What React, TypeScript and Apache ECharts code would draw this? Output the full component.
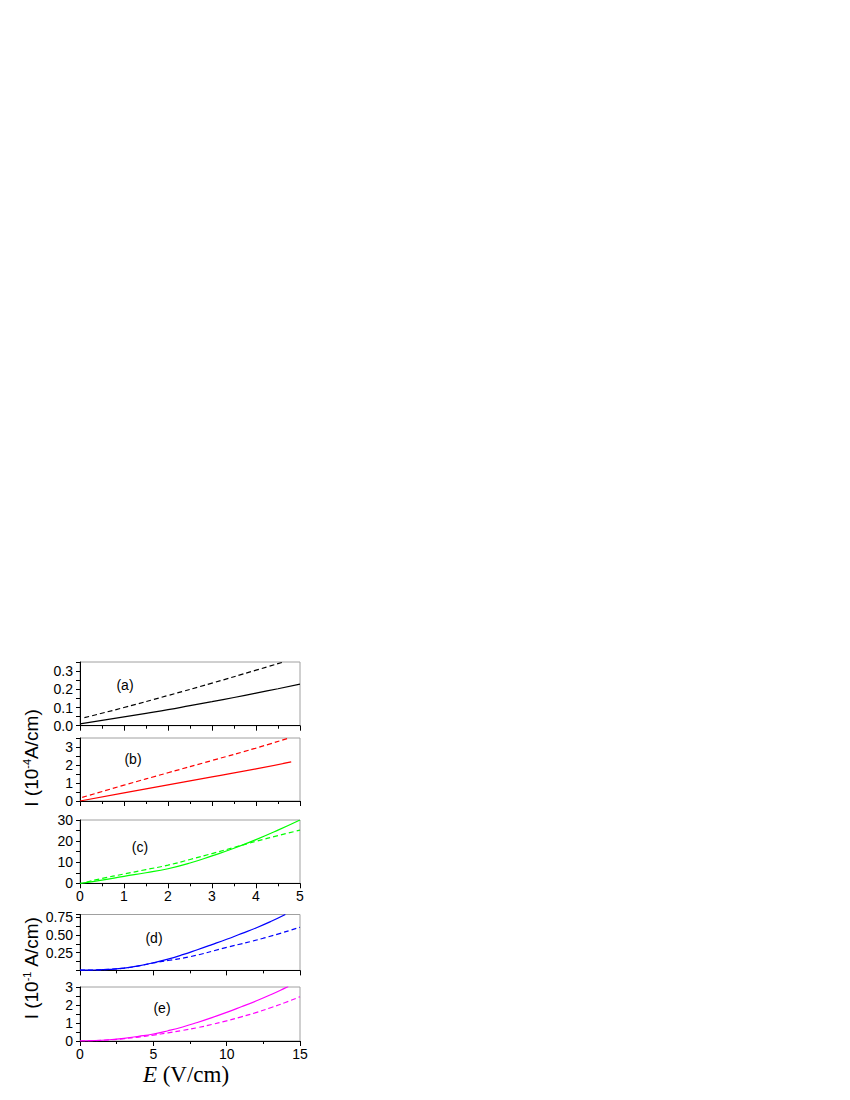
import React, { useEffect, useRef } from 'react';
import * as echarts from 'echarts';

// ---------- data ----------
const panelNames = ['(a)', '(b)', '(c)', '(d)', '(e)'];
const panelColors = ['#000000', '#ff0000', '#00ff00', '#0000ff', '#ff00ff'];

const aSolid = [[0, 0.01], [0.5, 0.029], [1, 0.048], [1.5, 0.068], [2, 0.088], [2.5, 0.11], [3, 0.132], [3.5, 0.155], [4, 0.179], [4.5, 0.203], [5, 0.228]];
const aDashed = [[0.1, 0.044], [1, 0.1], [2, 0.166], [3, 0.234], [4, 0.305], [4.65, 0.352]];

const bSolid = [[0, 0], [1, 0.45], [2, 0.9], [3, 1.34], [4, 1.78], [4.8, 2.17]];
const bDashed = [[0.05, 0.2], [1, 0.88], [2, 1.57], [3, 2.25], [4, 2.94], [4.75, 3.5]];

const cSolid = [[0, 0], [0.5, 1.5], [1, 3.3], [1.5, 5], [2, 6.9], [2.5, 9.6], [3, 13], [3.5, 16.6], [4, 20.7], [4.5, 25.2], [5, 30]];
const cDashed = [[0.15, 0.6], [0.5, 2.3], [1, 4.4], [1.5, 6.5], [2, 8.6], [2.5, 11.3], [3, 14.1], [3.5, 17], [4, 19.9], [4.5, 22.6], [5, 25.2]];

const dSolid = [[0, 0.003], [1, 0.006], [2, 0.015], [3, 0.032], [4, 0.065], [5, 0.108], [6, 0.16], [7, 0.222], [8, 0.292], [9, 0.365], [10, 0.44], [11, 0.52], [12, 0.6], [13, 0.69], [14, 0.79]];
const dDashed = [[0, 0.003], [1, 0.006], [2, 0.015], [3, 0.032], [4, 0.063], [5, 0.105], [6, 0.14], [7.5, 0.193], [10, 0.325], [12.5, 0.455], [15, 0.61]];

const eSolid = [[0, 0], [1, 0.02], [2, 0.07], [3, 0.15], [4, 0.26], [5, 0.39], [6, 0.57], [7, 0.78], [8, 1.03], [9, 1.3], [10, 1.59], [11, 1.9], [12, 2.22], [13, 2.57], [14, 2.95], [14.2, 3.03]];
const eDashed = [[0, 0], [1, 0.02], [2, 0.06], [3, 0.13], [4, 0.22], [5, 0.33], [6, 0.45], [7, 0.59], [8, 0.74], [9, 0.92], [10, 1.12], [11, 1.34], [12, 1.58], [13, 1.85], [14, 2.14], [15, 2.46]];

const solidSeries = [aSolid, bSolid, cSolid, dSolid, eSolid];
const dashedSeries = [aDashed, bDashed, cDashed, dDashed, eDashed];

const yMaxes = [0.35, 3.5, 30, 0.79, 3];
const yLabelSteps = [0.1, 1, 10, 0.25, 1];
const yDecimals = [1, 0, 0, 2, 0];
const xMaxes = [5, 5, 5, 15, 15];
const xSteps = [1, 1, 1, 5, 5];
const xLabelShown = [false, false, true, false, true];

const yTitleTop = 'I (10{sup|-4}A/cm)';
const yTitleBottom = 'I (10{sup|-1} A/cm)';
const xTitle = '{i|E} (V/cm)';

// ---------- layout ----------
const gridTops = [662, 738, 820, 914.5, 987];
const gridHeights = [63.7, 63, 63.3, 55.9, 54];
const gridLeft = 80;
const gridWidth = 220;
const labelPos = [[125, 685], [133, 759], [140, 847], [154, 938], [162, 1008]];

const FONT = 'Liberation Sans, Arial, sans-serif';
const SERIF = 'Liberation Serif, Times New Roman, serif';

export default function App() {
  const ref = useRef<HTMLDivElement>(null);
  useEffect(() => {
    if (!ref.current) return;
    const chart = echarts.init(ref.current, undefined, { renderer: 'svg' });

    const grid = gridTops.map((t, i) => ({
      left: gridLeft,
      top: t,
      width: gridWidth,
      height: gridHeights[i],
      show: true,
      borderColor: '#a0a0a0',
      borderWidth: 1,
      backgroundColor: 'transparent',
      containLabel: false,
    }));

    const xAxis = xMaxes.map((mx, i) => ({
      type: 'value',
      gridIndex: i,
      min: 0,
      max: mx,
      interval: xSteps[i],
      axisLine: { show: true, lineStyle: { color: '#000', width: 1 } },
      axisTick: { show: true, inside: false, length: 5, lineStyle: { color: '#000' } },
      minorTick: { show: true, splitNumber: 2, length: 3, lineStyle: { color: '#000' } },
      splitLine: { show: false },
      axisLabel: {
        show: xLabelShown[i],
        color: '#000',
        fontSize: 14,
        fontFamily: FONT,
        margin: 6,
      },
    }));

    const yAxis = yMaxes.map((mx, i) => ({
      type: 'value',
      gridIndex: i,
      min: 0,
      max: mx,
      interval: yLabelSteps[i] / 2,
      axisLine: { show: true, lineStyle: { color: '#000', width: 1 } },
      axisTick: { show: true, inside: false, length: 4, lineStyle: { color: '#000' } },
      splitLine: { show: false },
      axisLabel: {
        show: true,
        interval: 0,
        color: '#000',
        fontSize: 14,
        fontFamily: FONT,
        margin: 7,
        formatter: (v: number) => {
          const k = v / yLabelSteps[i];
          if (Math.abs(k - Math.round(k)) > 1e-6) return '';
          if (i === 3 && v === 0) return '';
          return v.toFixed(yDecimals[i]);
        },
      },
    }));

    const series: any[] = [];
    for (let i = 0; i < 5; i++) {
      series.push({
        type: 'line',
        xAxisIndex: i,
        yAxisIndex: i,
        data: solidSeries[i],
        showSymbol: false,
        smooth: true,
        clip: true,
        lineStyle: { color: panelColors[i], width: 1.2, type: 'solid' },
      });
      series.push({
        type: 'line',
        xAxisIndex: i,
        yAxisIndex: i,
        data: dashedSeries[i],
        showSymbol: false,
        smooth: true,
        clip: true,
        lineStyle: { color: panelColors[i], width: 1.2, type: [5, 3] },
      });
    }

    const graphic: any[] = panelNames.map((n, i) => ({
      type: 'text',
      x: labelPos[i][0],
      y: labelPos[i][1],
      style: {
        text: n,
        fontSize: 14,
        fontFamily: FONT,
        fill: '#000',
        align: 'center',
        verticalAlign: 'middle',
      },
    }));
    graphic.push({
      type: 'text',
      x: 31,
      y: 758,
      rotation: Math.PI / 2,
      style: {
        text: yTitleTop,
        fontSize: 19,
        fontFamily: FONT,
        fill: '#000',
        align: 'center',
        verticalAlign: 'middle',
        rich: { sup: { fontSize: 11, fontFamily: FONT, verticalAlign: 'top', fill: '#000' } },
      },
    });
    graphic.push({
      type: 'text',
      x: 31,
      y: 968,
      rotation: Math.PI / 2,
      style: {
        text: yTitleBottom,
        fontSize: 19,
        fontFamily: FONT,
        fill: '#000',
        align: 'center',
        verticalAlign: 'middle',
        rich: { sup: { fontSize: 11, fontFamily: FONT, verticalAlign: 'top', fill: '#000' } },
      },
    });
    graphic.push({
      type: 'text',
      x: 186,
      y: 1074,
      style: {
        text: xTitle,
        fontSize: 23,
        fontFamily: SERIF,
        fill: '#000',
        align: 'center',
        verticalAlign: 'middle',
        rich: { i: { fontSize: 23, fontStyle: 'italic', fontFamily: SERIF, fill: '#000' } },
      },
    });

    chart.setOption({
      animation: false,
      backgroundColor: '#ffffff',
      grid,
      xAxis,
      yAxis,
      series,
      graphic,
    });
    return () => chart.dispose();
  }, []);

  return (
    <div
      ref={ref}
      style={{ position: 'absolute', left: 0, top: 0, width: 850, height: 1100 }}
    />
  );
}
